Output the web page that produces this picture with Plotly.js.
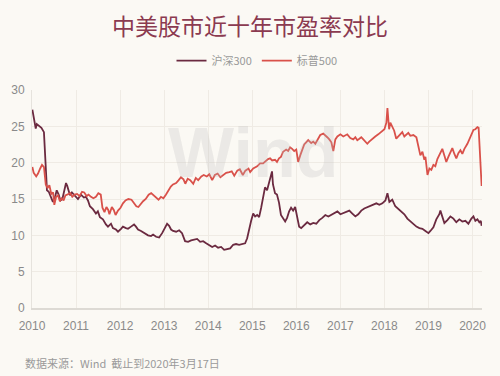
<!DOCTYPE html>
<html>
<head>
<meta charset="utf-8">
<script src="https://cdn.plot.ly/plotly-3.0.1.min.js"></script>
<style>html,body{margin:0;padding:0;background:#fbf9f4;}#chart{width:500px;height:376px;}</style>
</head>
<body>
<div id="chart"></div>
<script>
const csiDates = ["2010-01-04","2010-01-15","2010-02-01","2010-02-10","2010-03-01","2010-03-20","2010-04-10","2010-04-20","2010-04-28","2010-05-05","2010-05-20","2010-06-05","2010-06-23","2010-07-10","2010-07-25","2010-08-10","2010-08-25","2010-09-10","2010-09-25","2010-10-10","2010-10-20","2010-11-12","2010-11-28","2010-12-23","2011-01-17","2011-02-11","2011-03-07","2011-03-24","2011-04-10","2011-04-26","2011-05-21","2011-06-15","2011-07-01","2011-07-18","2011-08-12","2011-09-06","2011-09-23","2011-10-18","2011-11-03","2011-11-28","2011-12-15","2012-01-09","2012-01-25","2012-02-19","2012-03-07","2012-04-01","2012-04-26","2012-05-12","2012-05-29","2012-06-23","2012-07-18","2012-08-20","2012-09-14","2012-10-01","2012-10-26","2012-11-20","2012-12-15","2013-01-09","2013-01-25","2013-02-11","2013-02-27","2013-03-16","2013-04-10","2013-05-05","2013-05-29","2013-06-23","2013-07-18","2013-08-12","2013-09-06","2013-10-01","2013-10-26","2013-11-20","2013-12-15","2014-01-09","2014-02-03","2014-02-27","2014-03-24","2014-04-18","2014-05-13","2014-06-07","2014-07-02","2014-07-27","2014-08-20","2014-09-14","2014-10-09","2014-11-03","2014-11-20","2014-12-07","2014-12-23","2015-01-09","2015-01-25","2015-02-11","2015-02-27","2015-03-16","2015-04-01","2015-04-17","2015-05-04","2015-05-20","2015-06-06","2015-06-14","2015-06-22","2015-07-09","2015-07-25","2015-08-11","2015-08-27","2015-09-14","2015-10-01","2015-10-17","2015-11-03","2015-11-19","2015-12-06","2015-12-23","2016-01-09","2016-01-25","2016-02-11","2016-03-07","2016-04-01","2016-04-26","2016-05-21","2016-06-15","2016-07-10","2016-08-04","2016-08-29","2016-09-23","2016-10-18","2016-11-12","2016-12-07","2017-01-01","2017-01-25","2017-02-19","2017-03-16","2017-04-10","2017-05-05","2017-05-29","2017-06-23","2017-07-18","2017-08-12","2017-09-06","2017-10-01","2017-10-26","2017-11-20","2017-12-15","2018-01-09","2018-01-26","2018-02-11","2018-03-07","2018-04-01","2018-04-26","2018-05-21","2018-06-15","2018-07-10","2018-08-04","2018-08-29","2018-09-23","2018-10-18","2018-11-12","2018-12-07","2019-01-01","2019-01-17","2019-02-11","2019-03-07","2019-04-01","2019-04-10","2019-04-26","2019-05-13","2019-06-07","2019-07-02","2019-07-27","2019-08-20","2019-09-14","2019-10-09","2019-11-03","2019-11-28","2019-12-23","2020-01-09","2020-01-25","2020-02-11","2020-02-27","2020-03-10","2020-03-17"];
const csiPE = [27.3,26.0,24.7,25.3,25.1,24.8,24.2,21.0,17.5,16.2,16.0,15.3,14.6,15.2,16.2,15.6,14.8,15.0,16.0,17.2,16.8,15.5,15.9,15.4,15.0,15.6,15.2,15.3,14.8,14.0,13.6,13.0,13.3,12.5,12.2,11.5,11.2,11.6,11.0,10.8,10.5,10.9,11.2,11.0,10.9,11.2,11.5,11.2,10.8,10.6,10.3,10.0,9.9,10.1,9.8,9.7,10.3,11.0,11.6,11.3,10.8,10.6,10.5,10.7,10.3,9.2,9.1,9.3,9.4,9.5,9.1,9.2,8.9,8.6,8.4,8.6,8.3,8.4,8.0,8.1,8.2,8.7,8.8,8.7,8.8,8.9,9.6,11.0,12.0,13.0,12.6,12.8,12.5,13.8,15.0,16.6,16.2,17.2,18.3,18.8,17.0,15.8,15.6,14.5,12.8,12.3,11.9,12.4,13.3,13.8,13.4,13.9,12.6,11.2,11.0,11.4,11.8,11.5,11.7,11.6,12.1,12.4,12.8,12.6,12.8,13.0,13.3,12.9,13.1,13.3,13.4,13.0,12.6,12.9,13.4,13.7,13.9,14.1,14.2,14.4,14.2,14.4,14.8,15.8,14.6,14.9,14.0,13.6,13.3,12.9,12.3,11.9,11.6,11.2,11.0,10.9,10.6,10.3,10.6,11.1,12.2,12.9,13.4,12.7,11.7,12.1,12.6,12.3,11.8,12.2,11.9,12.0,11.6,12.3,12.6,12.0,12.2,11.8,12.0,11.3];

const spxDates = ["2010-01-04","2010-01-15","2010-02-05","2010-02-20","2010-03-10","2010-03-25","2010-04-10","2010-04-25","2010-05-10","2010-05-25","2010-06-10","2010-06-25","2010-07-05","2010-07-20","2010-08-05","2010-08-20","2010-09-05","2010-09-20","2010-10-05","2010-10-25","2010-11-15","2010-12-01","2010-12-20","2011-01-10","2011-01-30","2011-02-20","2011-03-10","2011-03-30","2011-04-15","2011-05-05","2011-05-25","2011-06-15","2011-07-05","2011-07-25","2011-08-08","2011-08-25","2011-09-10","2011-09-25","2011-10-05","2011-10-25","2011-11-10","2011-11-25","2011-12-15","2012-01-05","2012-01-25","2012-02-15","2012-03-10","2012-04-05","2012-04-25","2012-05-15","2012-06-01","2012-06-20","2012-07-10","2012-08-01","2012-08-25","2012-09-15","2012-10-05","2012-10-25","2012-11-15","2012-12-05","2012-12-25","2013-01-15","2013-02-05","2013-02-25","2013-03-15","2013-04-10","2013-05-01","2013-05-20","2013-06-10","2013-06-25","2013-07-15","2013-08-05","2013-08-30","2013-09-20","2013-10-10","2013-11-05","2013-11-25","2013-12-20","2014-01-10","2014-02-03","2014-02-25","2014-03-20","2014-04-12","2014-05-05","2014-05-30","2014-06-25","2014-07-15","2014-08-05","2014-08-30","2014-09-20","2014-10-15","2014-11-05","2014-12-01","2014-12-15","2015-01-09","2015-02-11","2015-03-07","2015-04-01","2015-04-26","2015-05-12","2015-05-29","2015-06-15","2015-07-09","2015-07-25","2015-08-11","2015-08-27","2015-09-14","2015-10-09","2015-10-26","2015-11-11","2015-11-28","2015-12-15","2016-01-01","2016-01-17","2016-02-03","2016-02-19","2016-03-07","2016-03-23","2016-04-09","2016-05-04","2016-05-21","2016-06-07","2016-06-23","2016-07-18","2016-08-12","2016-08-29","2016-09-14","2016-10-01","2016-10-18","2016-11-03","2016-11-20","2016-12-07","2017-01-01","2017-01-25","2017-02-11","2017-02-27","2017-03-24","2017-04-18","2017-05-05","2017-05-21","2017-06-07","2017-06-23","2017-07-10","2017-07-26","2017-08-12","2017-08-28","2017-09-22","2017-10-17","2017-11-11","2017-12-06","2018-01-01","2018-01-17","2018-01-26","2018-02-02","2018-02-09","2018-02-19","2018-03-07","2018-03-23","2018-04-09","2018-04-26","2018-05-13","2018-05-29","2018-06-15","2018-07-01","2018-07-18","2018-08-04","2018-08-29","2018-09-23","2018-10-09","2018-10-26","2018-11-12","2018-11-28","2018-12-07","2018-12-24","2019-01-09","2019-01-25","2019-02-11","2019-02-27","2019-03-16","2019-04-10","2019-04-26","2019-05-13","2019-05-29","2019-06-15","2019-07-02","2019-07-18","2019-08-04","2019-08-20","2019-09-06","2019-09-23","2019-10-09","2019-10-26","2019-11-20","2019-12-15","2020-01-09","2020-01-25","2020-02-11","2020-02-21","2020-03-02","2020-03-09","2020-03-17"];
const spxPE = [19.4,18.6,18.1,18.5,19.2,19.7,19.4,17.0,16.5,16.9,15.7,15.9,14.2,15.3,15.5,14.7,15.1,14.8,15.5,15.6,15.8,15.3,15.6,15.7,15.4,16.0,15.9,15.4,15.6,15.3,15.1,15.3,15.8,15.6,13.8,13.2,13.9,13.5,12.9,13.9,13.5,12.8,13.4,13.8,14.4,14.8,15.0,14.9,14.5,14.0,13.9,14.3,14.7,15.0,15.6,15.8,15.5,15.1,14.9,15.3,15.1,15.6,16.2,16.7,17.0,17.2,17.6,18.0,17.7,17.1,17.8,17.6,17.1,17.9,17.6,18.1,18.3,18.1,18.4,17.6,18.3,18.5,18.0,18.3,18.6,18.7,18.8,18.2,18.9,19.1,18.3,18.9,19.2,18.7,19.2,19.5,19.9,19.9,20.3,20.5,20.6,20.3,20.4,20.1,20.6,20.8,21.5,21.8,21.6,22.1,21.9,21.6,21.8,20.1,21.0,21.9,22.5,22.8,23.1,22.7,22.9,22.6,23.0,23.8,24.0,23.8,23.5,23.2,22.8,21.6,23.2,23.6,23.9,23.6,23.8,23.9,23.4,23.2,23.5,23.1,23.3,23.5,23.2,22.9,22.6,22.9,23.3,23.6,23.9,24.3,24.6,25.5,27.5,26.0,24.6,25.5,25.0,24.4,23.3,23.6,23.8,24.2,23.6,23.9,24.1,23.7,23.8,23.5,22.4,21.0,21.5,20.4,20.8,18.3,19.2,19.0,19.7,19.5,20.5,21.5,21.9,21.0,20.1,20.8,21.5,22.0,21.2,20.6,21.3,21.7,21.2,21.9,22.6,23.5,24.5,24.6,24.9,24.8,22.0,20.5,16.8];

const names = ["沪深300","标普500"];
const xTicks = ["2010","2011","2012","2013","2014","2015","2016","2017","2018","2019","2020"];
const yTicks = [0,5,10,15,20,25,30];

const traces = [
  {x: csiDates, y: csiPE, name: names[0], type: "scatter", mode: "lines",
   line: {color: "#6b2a40", width: 1.8}},
  {x: spxDates, y: spxPE, name: names[1], type: "scatter", mode: "lines",
   line: {color: "#d9514a", width: 1.8}}
];

const tickFont = {size: 12, color: "#8a8a8a", family: "Liberation Sans, Arial"};

const layout = {
  width: 500, height: 376,
  paper_bgcolor: "#fbf9f4", plot_bgcolor: "#fbf9f4",
  margin: {l: 32, r: 18, t: 90, b: 68},
  font: {family: "Noto Sans CJK SC, Noto Sans, sans-serif", color: "#8a8a8a", size: 12},
  title: {text: "中美股市近十年市盈率对比", x: 0.5, xanchor: "center", y: 0.928, yanchor: "middle",
          font: {family: "Noto Sans CJK SC", size: 23, color: "#8b3a50"}},
  showlegend: true,
  legend: {orientation: "h", x: 0.5, xanchor: "center", y: 1.135, yanchor: "middle",
           font: {size: 11, color: "#999"}, bgcolor: "rgba(0,0,0,0)", itemwidth: 30, tracegroupgap: 0},
  xaxis: {type: "date", range: ["2010-01-01","2020-03-20"],
          tickvals: xTicks.map(t => t + "-01-01"), ticktext: xTicks,
          showgrid: true, gridcolor: "#efebe4", gridwidth: 1,
          showline: true, linecolor: "#dddad4", linewidth: 2,
          ticks: "", ticklabelstandoff: 6, tickfont: tickFont,
          zeroline: false, fixedrange: true},
  yaxis: {range: [0, 30], tickvals: yTicks,
          showgrid: true, gridcolor: "#efebe4", gridwidth: 1,
          showline: true, linecolor: "#e6e3dd", linewidth: 1,
          ticks: "", ticklabelstandoff: 4, tickfont: tickFont,
          zeroline: false, fixedrange: true},
  annotations: [
    {text: "<b>Wind</b>", xref: "paper", yref: "paper", x: 0.49, y: 0.71, xanchor: "center", yanchor: "middle",
     showarrow: false, font: {size: 70, color: "rgba(190,190,190,0.26)", family: "Liberation Sans, Arial"}},
    {text: "数据来源：Wind  截止到2020年3月17日", xref: "paper", yref: "paper", x: -0.02, y: -0.25,
     xanchor: "left", yanchor: "middle", showarrow: false,
     font: {size: 11, color: "#9a9a9a", family: "Noto Sans CJK SC"}}
  ]
};

Plotly.newPlot("chart", traces, layout, {displayModeBar: false, staticPlot: true});
</script>
</body>
</html>
